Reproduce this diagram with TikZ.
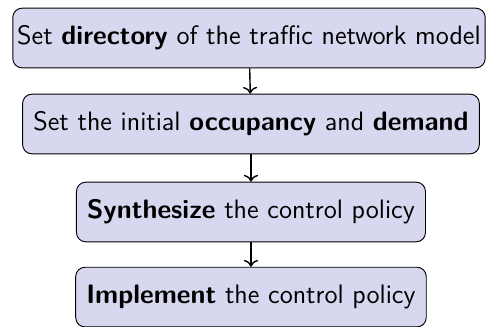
\documentclass[tikz,border=0pt]{standalone}
\usetikzlibrary{arrows.meta,positioning}
\definecolor{stepfill}{RGB}{215,215,240}
\begin{document}
\begin{tikzpicture}[font=\sffamily\fontsize{11.45}{13.8}\selectfont]
\tikzstyle{stepbox}=[draw,fill=stepfill,rounded corners=4pt,minimum height=0.9cm,inner xsep=4.6pt,align=center]
\useasboundingbox (-3.755,0.573) rectangle (3.695,-4.344);
\node[stepbox,inner xsep=1.9pt] (dir) at (0,0) {Set \textbf{directory} of the traffic network model};
\node[stepbox] (init) at (0.03,-1.297) {Set the initial \textbf{occupancy} and \textbf{demand}};
\node[stepbox] (synth) at (0.03,-2.624) {\textbf{Synthesize} the control policy};
\node[stepbox] (impl) at (0.03,-3.907) {\textbf{Implement} the control policy};
\draw[->,semithick] (dir) -- (init);
\draw[->,semithick] (init) -- (synth);
\draw[->,semithick] (synth) -- (impl);
\end{tikzpicture}
\end{document}
